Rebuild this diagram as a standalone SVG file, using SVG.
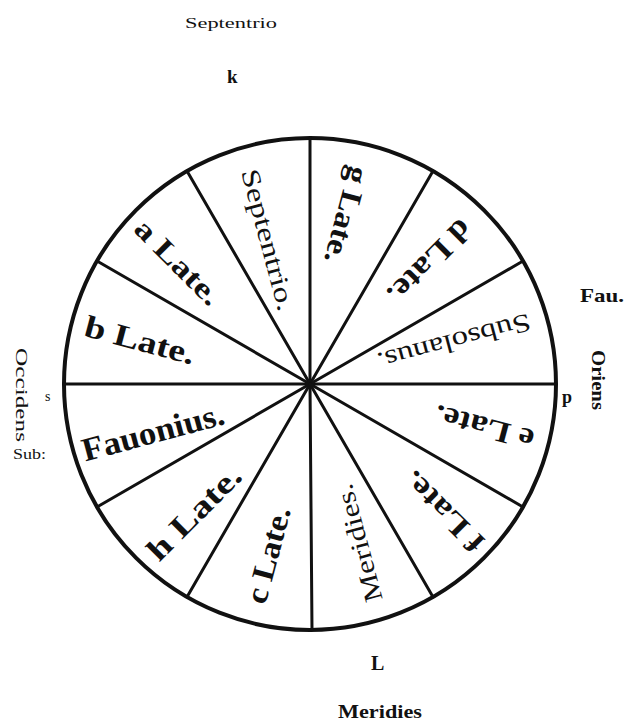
<svg xmlns="http://www.w3.org/2000/svg" width="628" height="723" viewBox="0 0 628 723">
<style>
.rim{fill:none;stroke:#111;stroke-width:4}
.sp{stroke:#111;stroke-width:3;stroke-linecap:round}
.lab{font-family:"Liberation Serif",serif;fill:#111;text-anchor:middle;dominant-baseline:central}
.b{font-weight:bold}
.o{font-family:"Liberation Serif",serif;fill:#111}
</style>
<rect width="628" height="723" fill="#fff"/>
<g id="wheel">
<circle class="rim" cx="310" cy="384" r="246"/>
</g>
<g id="connectors">
<line class="sp" x1="310" y1="384" x2="556" y2="384"/>
<line class="sp" x1="310" y1="384" x2="523" y2="261"/>
<line class="sp" x1="310" y1="384" x2="433" y2="171"/>
<line class="sp" x1="310" y1="384" x2="310" y2="138"/>
<line class="sp" x1="310" y1="384" x2="187" y2="171"/>
<line class="sp" x1="310" y1="384" x2="97" y2="261"/>
<line class="sp" x1="310" y1="384" x2="64" y2="384"/>
<line class="sp" x1="310" y1="384" x2="97" y2="507"/>
<line class="sp" x1="310" y1="384" x2="187" y2="597"/>
<line class="sp" x1="310" y1="384" x2="312" y2="630"/>
<line class="sp" x1="310" y1="384" x2="433" y2="597"/>
<line class="sp" x1="310" y1="384" x2="523" y2="507"/>
</g>
<g id="s-septentrio"><text class="lab" font-size="26" textLength="146" lengthAdjust="spacingAndGlyphs" transform="translate(268,240) rotate(75)">Septentrio.</text></g>
<g id="s-g"><text class="lab b" font-size="30" textLength="99" lengthAdjust="spacingAndGlyphs" transform="translate(347,215) rotate(105)">g Late.</text></g>
<g id="s-d"><text class="lab b" font-size="31" textLength="106" lengthAdjust="spacingAndGlyphs" transform="translate(430,262) rotate(135)">d Late.</text></g>
<g id="s-subsolanus"><text class="lab" font-size="26" textLength="158" lengthAdjust="spacingAndGlyphs" transform="translate(454,342) rotate(165)">Subsolanus.</text></g>
<g id="s-e"><text class="lab b" font-size="30" textLength="102" lengthAdjust="spacingAndGlyphs" transform="translate(484,428) rotate(195)">e Late.</text></g>
<g id="s-f"><text class="lab b" font-size="30" textLength="101" lengthAdjust="spacingAndGlyphs" transform="translate(443,512) rotate(225)">f Late.</text></g>
<g id="s-meridies"><text class="lab" font-size="26" textLength="121" lengthAdjust="spacingAndGlyphs" transform="translate(359,543) rotate(255)">Meridies.</text></g>
<g id="s-c"><text class="lab b" font-size="31" textLength="99" lengthAdjust="spacingAndGlyphs" transform="translate(268,555) rotate(-75)">c Late.</text></g>
<g id="s-h"><text class="lab b" font-size="31" textLength="120" lengthAdjust="spacingAndGlyphs" transform="translate(194,513) rotate(-45)">h Late.</text></g>
<g id="s-fauonius"><text class="lab b" font-size="33" textLength="146" lengthAdjust="spacingAndGlyphs" transform="translate(153,432) rotate(-15)">Fauonius.</text></g>
<g id="s-b"><text class="lab b" font-size="31" textLength="113" lengthAdjust="spacingAndGlyphs" transform="translate(140,340) rotate(15)">b Late.</text></g>
<g id="s-a"><text class="lab b" font-size="29" textLength="109" lengthAdjust="spacingAndGlyphs" transform="translate(178,262) rotate(45)">a Late.</text></g>
<g id="outer-labels">
<text class="o" x="185" y="28" font-size="15" textLength="92" lengthAdjust="spacingAndGlyphs">Septentrio</text>
<text class="o b" x="227" y="83" font-size="19">k</text>
<text class="o b" x="580" y="302" font-size="19" textLength="44" lengthAdjust="spacingAndGlyphs">Fau.</text>
<text class="lab b" font-size="18" textLength="60" lengthAdjust="spacingAndGlyphs" transform="translate(598,380) rotate(90)">Oriens</text>
<text class="o b" x="562" y="403" font-size="18">p</text>
<text class="o" x="45" y="401" font-size="14">s</text>
<text class="lab" font-size="17" textLength="94" lengthAdjust="spacingAndGlyphs" transform="translate(21,395) rotate(90)">Occidens</text>
<text class="o" x="13" y="459" font-size="14" textLength="33" lengthAdjust="spacingAndGlyphs">Sub:</text>
<text class="o b" x="371" y="670" font-size="20">L</text>
<text class="o b" x="338" y="718" font-size="19" textLength="84" lengthAdjust="spacingAndGlyphs">Meridies</text>
</g>
</svg>
